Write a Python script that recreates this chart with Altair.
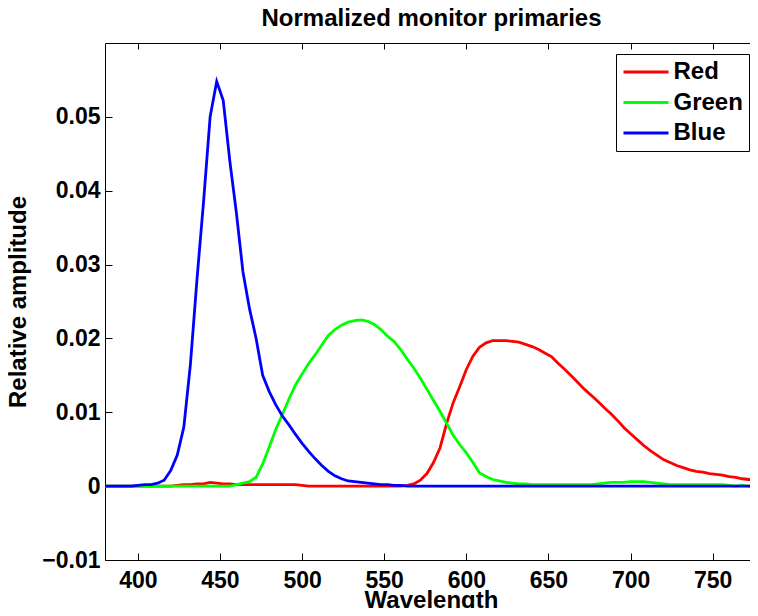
import altair as alt
import pandas as pd

# Sampling grid of the spectra (nm), 380:4:780
WAVELENGTH = list(range(380, 781, 4))

RED = [
    0, 0, 0, 0, 0, 0, 0, 0, 0, 0,
    0, 0.0001, 0.0002, 0.0002, 0.0003, 0.0003, 0.0005, 0.0004, 0.0003, 0.0003,
    0.0002, 0.0002, 0.0002, 0.0002, 0.0002, 0.0002, 0.0002, 0.0002, 0.0002, 0.0002,
    0.0001, 0, 0, 0, 0, 0, 0, 0, 0, 0,
    0, 0, 0, 0, 0, 0, 0.0001, 0.0003, 0.0008, 0.0017,
    0.0032, 0.0052, 0.0085, 0.0113, 0.0135, 0.0158, 0.0176, 0.0188, 0.0194, 0.0197,
    0.0197, 0.0197, 0.0196, 0.0195, 0.0192, 0.0189, 0.0185, 0.0180, 0.0175, 0.0166,
    0.0158, 0.0149, 0.0140, 0.0131, 0.0123, 0.0115, 0.0106, 0.0098, 0.0089, 0.0079,
    0.0071, 0.0063, 0.0055, 0.0048, 0.0042, 0.0036, 0.0032, 0.0028, 0.0025, 0.0022,
    0.0020, 0.0019, 0.0017, 0.0016, 0.0015, 0.0013, 0.0012, 0.0010, 0.0009, 0.0007,
    0.0006,
]

GREEN = [
    0, 0, 0, 0, 0, 0, 0, 0, 0, 0,
    0, 0, 0, 0, 0, 0, 0, 0, 0, 0,
    0.0002, 0.0004, 0.0006, 0.0012, 0.0030, 0.0053, 0.0077, 0.0097, 0.0118, 0.0137,
    0.0152, 0.0166, 0.0178, 0.0191, 0.0204, 0.0212, 0.0218, 0.0222, 0.0224, 0.0225,
    0.0223, 0.0219, 0.0212, 0.0203, 0.0196, 0.0185, 0.0172, 0.0160, 0.0146, 0.0131,
    0.0116, 0.0101, 0.0085, 0.0069, 0.0056, 0.0045, 0.0032, 0.0018, 0.0013, 0.0009,
    0.0007, 0.0005, 0.0004, 0.0003, 0.0003, 0.0002, 0.0002, 0.0002, 0.0002, 0.0002,
    0.0002, 0.0002, 0.0002, 0.0002, 0.0002, 0.0003, 0.0004, 0.0005, 0.0005, 0.0005,
    0.0006, 0.0006, 0.0006, 0.0005, 0.0004, 0.0003, 0.0002, 0.0002, 0.0002, 0.0002,
    0.0002, 0.0002, 0.0002, 0.0002, 0.0002, 0.0001, 0, 0.0001, 0, 0,
    0,
]

BLUE = [
    0, 0, 0, 0, 0, 0.0001, 0.0002, 0.0002, 0.0004, 0.0008,
    0.0021, 0.0042, 0.0080, 0.0165, 0.0280, 0.0385, 0.0500, 0.0548, 0.0522, 0.0440,
    0.0370, 0.0290, 0.0240, 0.0200, 0.0150, 0.0128, 0.0110, 0.0095, 0.0083, 0.0070,
    0.0058, 0.0047, 0.0037, 0.0028, 0.0020, 0.0014, 0.0010, 0.0007, 0.0006, 0.0005,
    0.0004, 0.0003, 0.0002, 0.0002, 0.0001, 0.0001, 0, 0, 0, 0,
    0, 0, 0, 0, 0, 0, 0, 0, 0, 0,
    0, 0, 0, 0, 0, 0, 0, 0, 0, 0,
    0, 0, 0, 0, 0, 0, 0, 0, 0, 0,
    0, 0, 0, 0, 0, 0, 0, 0, 0, 0,
    0, 0, 0, 0, 0, 0, 0, 0, 0, 0,
    0,
]

SERIES = ["Red", "Green", "Blue"]
COLORS = ["#ff0000", "#00ff00", "#0000ff"]
X_TICKS = [400, 450, 500, 550, 600, 650, 700, 750]
Y_TICKS = [-0.01, 0, 0.01, 0.02, 0.03, 0.04, 0.05]

rows = []
for name, vals in zip(SERIES, [RED, GREEN, BLUE]):
    for w, v in zip(WAVELENGTH, vals):
        rows.append({"Wavelength": w, "Amplitude": v, "Series": name})
df = pd.DataFrame(rows)

W, H = 657, 517
FONT = "Liberation Sans"

xscale = alt.Scale(domain=[380, 780], nice=False, zero=False)
yscale = alt.Scale(domain=[-0.01, 0.06], nice=False, zero=False)

lines = alt.Chart(df).mark_line(strokeWidth=2.8, clip=True).encode(
    x=alt.X(
        "Wavelength:Q", scale=xscale,
        axis=alt.Axis(orient="bottom", values=X_TICKS, ticks=False, tickSize=0,
                      domain=True, domainColor="black", grid=False,
                      labelPadding=9, labelFontSize=23, labelFont=FONT,
                      labelFontWeight="bold", labelColor="black", labelFlush=False,
                      title="Wavelength", titleFont=FONT, titleFontSize=24,
                      titleFontWeight="bold", titleColor="black", titleY=28,
                      titleX=326),
    ),
    y=alt.Y(
        "Amplitude:Q", scale=yscale,
        axis=alt.Axis(orient="left", values=Y_TICKS, format=".2~f", ticks=False,
                      tickSize=0, domain=True, domainColor="black", grid=False,
                      labelPadding=5, labelFontSize=23, labelFont=FONT,
                      labelFontWeight="bold", labelColor="black", labelFlush=False,
                      title="Relative amplitude", titleFont=FONT, titleFontSize=24,
                      titleFontWeight="bold", titleColor="black", titleX=-75),
    ),
    color=alt.Color(
        "Series:N",
        scale=alt.Scale(domain=SERIES, range=COLORS),
        legend=alt.Legend(
            title=None, orient="none", legendX=511, legendY=11,
            symbolType="stroke", symbolSize=2025, symbolStrokeWidth=3,
            clipHeight=24, rowPadding=6.5, padding=6, labelOffset=3.5,
            labelFont=FONT, labelFontSize=24, labelFontWeight="bold",
            labelColor="black", strokeColor="black", fillColor="white",
            cornerRadius=0,
        ),
    ),
)

# inward ticks on bottom and left edges
ticks_bl = alt.Chart(df).mark_line(strokeOpacity=0).encode(
    x=alt.X("Wavelength:Q", scale=xscale,
            axis=alt.Axis(orient="top", offset=-H, values=X_TICKS, labels=False,
                          domain=False, tickSize=7, tickColor="black", grid=False,
                          title=None)),
    y=alt.Y("Amplitude:Q", scale=yscale,
            axis=alt.Axis(orient="right", offset=-W, values=Y_TICKS, labels=False,
                          domain=False, tickSize=7, tickColor="black", grid=False,
                          title=None)),
)

# top border with inward ticks, and inward ticks on the right edge
ticks_tr = alt.Chart(df).mark_line(strokeOpacity=0).encode(
    x=alt.X("Wavelength:Q", scale=xscale,
            axis=alt.Axis(orient="bottom", offset=-H, values=X_TICKS, labels=False,
                          domain=True, domainColor="black", tickSize=6,
                          tickColor="black", grid=False, title=None)),
    y=alt.Y("Amplitude:Q", scale=yscale,
            axis=alt.Axis(orient="left", offset=-W, values=Y_TICKS, labels=False,
                          domain=True, domainColor="black", tickSize=7,
                          tickColor="black", grid=False, title=None)),
)

chart = alt.layer(lines, ticks_bl, ticks_tr).resolve_axis(
    x="independent", y="independent"
).properties(
    width=W,
    height=H,
    autosize=alt.AutoSizeParams(type="none"),
    padding={"left": 97, "top": 35, "right": -12, "bottom": 48},
    title=alt.TitleParams(
        "Normalized monitor primaries", font=FONT, fontSize=24,
        fontWeight="bold", color="black", offset=11, dy=18, dx=-2,
        anchor="middle", frame="group", baseline="alphabetic",
    ),
).configure_view(stroke=None).configure(background="white")

chart.save("out.html", embed_options={"renderer": "svg", "actions": False})
